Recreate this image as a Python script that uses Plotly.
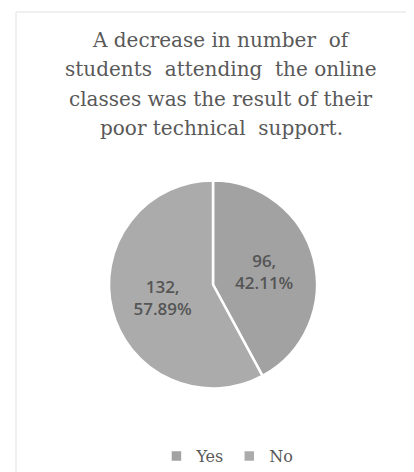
import plotly.graph_objects as go

labels = ["Yes", "No"]
values = [96, 132]
colors = ["#a2a2a2", "#ababab"]
title_lines = ["A decrease in number  of", "students  attending  the online",
               "classes was the result of their", "poor technical  support."]

SERIF = "DejaVu Serif"

fig = go.Figure(go.Pie(
    labels=labels, values=values, sort=False, direction="clockwise", rotation=0,
    marker=dict(colors=colors, line=dict(color="white", width=2.5)),
    texttemplate="%{value},<br>%{percent:.2%}",
    textposition="inside", insidetextorientation="horizontal",
    textfont=dict(family="Open Sans", size=17, color="#555555", weight=600),
    domain=dict(x=[(205-104)/414, (205+104)/414], y=[1-381/472, 1-172/472]),
    hoverinfo="label+value+percent",
))

title_annotations = [
    dict(text=line, x=0.515, y=1-(45+i*29.3)/472, xref="paper", yref="paper",
         xanchor="center", yanchor="bottom", showarrow=False, yshift=-1,
         font=dict(family=SERIF, size=20, color="#595959"))
    for i, line in enumerate(title_lines)
]

fig.update_layout(
    width=414, height=472, margin=dict(l=0, r=0, t=0, b=0),
    paper_bgcolor="white", plot_bgcolor="white",
    annotations=title_annotations,
    legend=dict(orientation="h", x=0.53, xanchor="center", y=1-448/472, yanchor="middle",
                font=dict(family=SERIF, size=16, color="#595959"),
                itemwidth=30),
    shapes=[dict(type="line", xref="paper", yref="paper", x0=8/414, x1=1, y0=1-4/472, y1=1-4/472,
                 line=dict(color="#ebebeb", width=1.5)),
            dict(type="line", xref="paper", yref="paper", x0=8/414, x1=8/414, y0=0, y1=1-4/472,
                 line=dict(color="#ebebeb", width=1.5))],
)

fig.write_html("out.html")
